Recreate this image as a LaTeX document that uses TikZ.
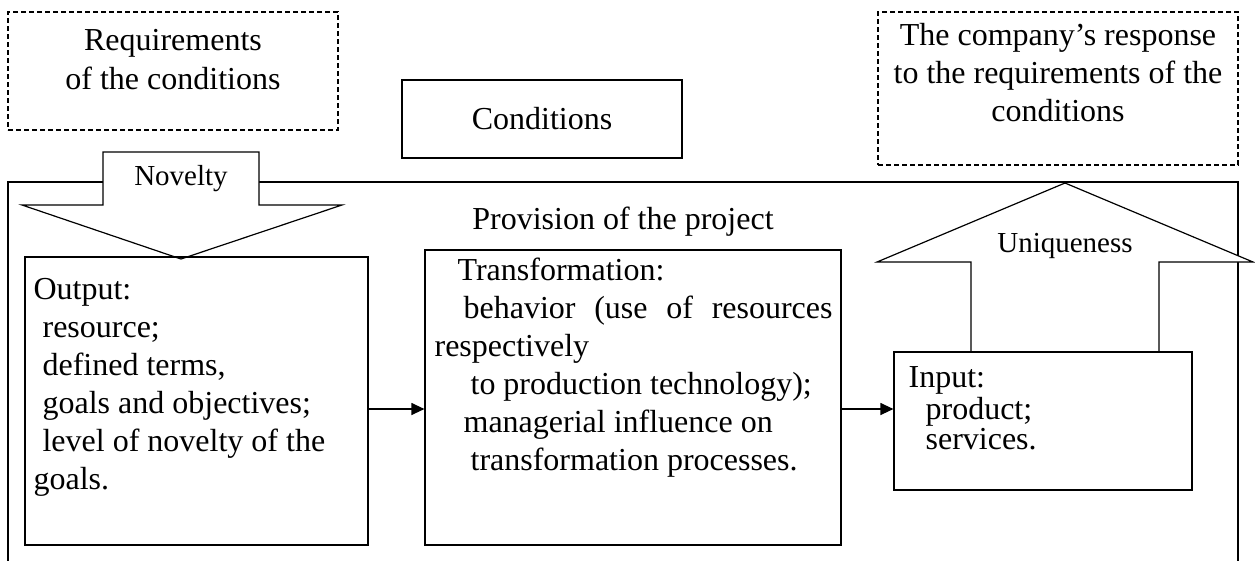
\documentclass[tikz,border=0pt]{standalone}
\usepackage{fontspec}
\setmainfont{Liberation Serif}
\usepackage{tikz}
\usetikzlibrary{%
  arrows.meta,%
  positioning,%
  calc%
}

\begin{document}
\begin{tikzpicture}
  [
  x=1pt, y=-1pt, line width=1.2pt, >={Triangle[length=13pt,width=12pt]},
  font=\fontsize{32}{38}\selectfont,
  box/.style={rectangle, draw=black, inner sep=0pt},
  dashbox/.style={box, dash pattern=on 5pt off 3pt},
  boxtext/.style={inner sep=0pt, anchor=north west, align=left},
  arrowtext/.style={inner sep=0pt, font=\fontsize{29}{32}\selectfont},
  bigarrow/.style={draw=black, fill=white},
  ]

  \useasboundingbox (0,0) rectangle (1255,560);

  \node[dashbox, minimum width=330pt, minimum height=118pt] (req) at (173,71) {};
  \node[boxtext, anchor=north, align=center, font=\fontsize{32}{39}\selectfont] (reqtext) at (173,23) {\strut Requirements\\of the conditions};

  \node[box, minimum width=280pt, minimum height=78pt] (cond) at (542,119) {Conditions};

  \node[dashbox, minimum width=360pt, minimum height=153pt] (resp) at (1058,88.5) {};
  \node[boxtext, anchor=north, align=center] (resptext) at (1058,18.5) {\strut The company’s response\\to the requirements of the\\conditions};

  \node[box, minimum width=1230pt, minimum height=384pt] (proj) at (623,374) {};
  \node[inner sep=0pt] (projtext) at (623,222) {Provision of the project};

  \draw[bigarrow] (103,152) -- (259,152) -- (259,205) -- (342,205) -- (181,259)
    -- (22,205) -- (103,205) -- cycle;
  \node[arrowtext] (novelty) at (181,179) {Novelty};

  \draw[bigarrow] (971,352) -- (971,262) -- (877,262) -- (1065,183) -- (1253,262)
    -- (1159,262) -- (1159,352);
  \node[arrowtext] (unique) at (1065,246) {Uniqueness};

  \node[box, minimum width=343pt, minimum height=288pt] (out) at (196.5,401) {};
  \node[boxtext] (outtext) at (33,272) {\strut Output:\\\hspace*{9pt}resource;\\\hspace*{9pt}defined terms,\\\hspace*{9pt}goals and objectives;\\\hspace*{9pt}level of novelty of the\\goals.};

  \node[box, minimum width=416pt, minimum height=295pt] (trans) at (633,397.5) {};
  \node[boxtext] (transtext) at (434,253.4) {\hspace*{23pt}\strut Transformation:\\\hspace*{29pt}\makebox[369pt][s]{behavior (use of resources}\\respectively\\\hspace*{36pt}to production technology);\\\hspace*{29pt}managerial influence on\\\hspace*{36pt}transformation processes.};

  \node[box, minimum width=298pt, minimum height=138pt] (inp) at (1043,421) {};
  \node[boxtext, font=\fontsize{32}{30}\selectfont] (inptext) at (908,366) {\strut Input:\\\hspace*{17pt}product;\\\hspace*{17pt}services.};

  \coordinate (lvl) at (0,409);
  \draw[->] (out.east |- lvl) -- (trans.west |- lvl);
  \draw[->] (trans.east |- lvl) -- (inp.west |- lvl);

\end{tikzpicture}
\end{document}
